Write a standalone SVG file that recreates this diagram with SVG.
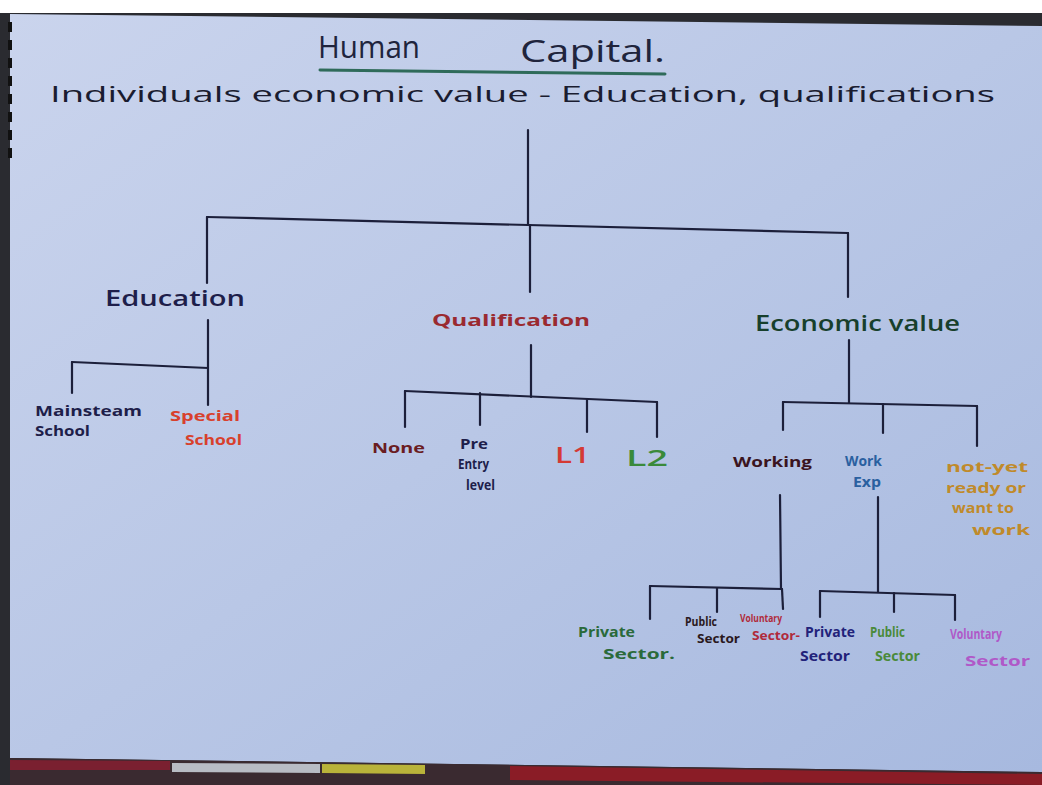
<svg xmlns="http://www.w3.org/2000/svg" width="1042" height="785" viewBox="0 0 1042 785">
  <defs>
    <linearGradient id="paperShade" x1="0" y1="0" x2="1" y2="1">
      <stop offset="0" stop-color="#cad4ed"/>
      <stop offset="0.5" stop-color="#b9c7e6"/>
      <stop offset="1" stop-color="#a7b9df"/>
    </linearGradient>
    <style>
      .ink { fill: none; stroke: #1c1f3a; stroke-width: 2.2; stroke-linecap: round; stroke-linejoin: round; }
      .hand { font-family: "Open Sans", "Noto Sans", "Liberation Sans", sans-serif; }
      .t1 { font-size: 21px; font-weight: 600; }
      .t2 { font-size: 16px; font-weight: 700; }
      .t3 { font-size: 15px; font-weight: 700; }
      .t4 { font-size: 12px; font-weight: 700; }
    </style>
  </defs>

  <!-- desk behind the sheet -->
  <rect x="0" y="0" width="1042" height="785" fill="#2a2b30"/>
  <rect x="0" y="0" width="1042" height="13" fill="#ffffff"/>

  <!-- the sheet -->
  <polygon points="10,14 1042,26 1042,772 10,758" fill="url(#paperShade)"/>

  <!-- edge of the pad under the sheet -->
  <polygon points="10,758 1042,772 1042,785 10,785" fill="#3a2a30"/>
  <polygon points="10,760 170,761 170,770 10,770" fill="#7a2030"/>
  <polygon points="172,763 320,764 320,773 172,772" fill="#b8bcc4"/>
  <polygon points="322,764 425,765 425,774 322,773" fill="#b9b33a"/>
  <polygon points="510,766 1042,774 1042,785 510,780" fill="#8a1c26"/>

  <!-- binder holes on the left edge -->
  <g fill="#111">
    <rect x="8" y="22" width="4" height="10"/>
    <rect x="8" y="40" width="4" height="10"/>
    <rect x="8" y="58" width="4" height="10"/>
    <rect x="8" y="76" width="4" height="10"/>
    <rect x="8" y="94" width="4" height="10"/>
    <rect x="8" y="112" width="4" height="10"/>
    <rect x="8" y="130" width="4" height="10"/>
    <rect x="8" y="148" width="4" height="10"/>
  </g>

  <!-- heading -->
  <g id="title">
    <text class="hand" x="318" y="58" font-size="31" font-weight="400" fill="#20243c" textLength="102" lengthAdjust="spacingAndGlyphs">Human</text>
    <text class="hand" x="520" y="62" font-size="31" font-weight="400" fill="#20243c" textLength="145" lengthAdjust="spacingAndGlyphs">Capital.</text>
    <path d="M 320 70 L 665 74" stroke="#2f6b5a" stroke-width="3" fill="none" stroke-linecap="round"/>
  </g>
  <g id="definition">
    <text class="hand" x="50" y="102" font-size="22" font-weight="400" fill="#1a1c30" textLength="945" lengthAdjust="spacingAndGlyphs">Individuals economic value - Education, qualifications</text>
  </g>

  <!-- connectors -->
  <g id="connectors" class="ink">
    <!-- top level -->
    <path d="M 528 130 L 528 224"/>
    <path d="M 207 217 L 848 233"/>
    <path d="M 207 217 L 207 283"/>
    <path d="M 530 225 L 530 292"/>
    <path d="M 848 233 L 848 297"/>
    <!-- education -->
    <path d="M 208 320 L 208 405"/>
    <path d="M 72 362 L 208 368"/>
    <path d="M 72 362 L 72 393"/>
    <!-- qualification -->
    <path d="M 531 345 L 531 397"/>
    <path d="M 405 391 L 657 402"/>
    <path d="M 405 391 L 405 427"/>
    <path d="M 480 393 L 480 425"/>
    <path d="M 587 399 L 587 432"/>
    <path d="M 657 402 L 657 437"/>
    <!-- economic value -->
    <path d="M 849 340 L 849 403"/>
    <path d="M 783 402 L 977 406"/>
    <path d="M 783 402 L 783 430"/>
    <path d="M 883 404 L 883 433"/>
    <path d="M 977 406 L 977 446"/>
    <!-- working -->
    <path d="M 780 495 L 781 589"/>
    <path d="M 650 586 L 782 589"/>
    <path d="M 650 586 L 650 619"/>
    <path d="M 717 588 L 717 612"/>
    <path d="M 782 589 L 783 609"/>
    <!-- work experience -->
    <path d="M 878 497 L 878 592"/>
    <path d="M 820 591 L 955 595"/>
    <path d="M 820 591 L 820 617"/>
    <path d="M 894 593 L 894 612"/>
    <path d="M 955 595 L 955 620"/>
  </g>

  <!-- second level -->
  <g id="education">
    <text class="hand t1" x="105" y="306" fill="#1e1e4a" textLength="140" lengthAdjust="spacingAndGlyphs">Education</text>
  </g>
  <g id="qualification">
    <text class="hand t2" x="432" y="326" fill="#9a2a30" textLength="158" lengthAdjust="spacingAndGlyphs">Qualification</text>
  </g>
  <g id="economic-value">
    <text class="hand t1" x="755" y="331" fill="#173f2c" textLength="205" lengthAdjust="spacingAndGlyphs">Economic value</text>
  </g>

  <!-- education branches -->
  <g id="mainstream-school">
    <text class="hand t3" x="35" y="416" fill="#1e1e4a" textLength="107" lengthAdjust="spacingAndGlyphs">Mainsteam</text>
    <text class="hand t3" x="35" y="436" fill="#1e1e4a" textLength="55" lengthAdjust="spacingAndGlyphs">School</text>
  </g>
  <g id="special-school">
    <text class="hand t3" x="170" y="421" fill="#d8402c" textLength="70" lengthAdjust="spacingAndGlyphs">Special</text>
    <text class="hand t3" x="185" y="445" fill="#d8402c" textLength="57" lengthAdjust="spacingAndGlyphs">School</text>
  </g>

  <!-- qualification branches -->
  <g id="none">
    <text class="hand t3" x="372" y="453" fill="#6a1c22" textLength="53" lengthAdjust="spacingAndGlyphs">None</text>
  </g>
  <g id="pre-entry">
    <text class="hand t3" x="460" y="449" fill="#1e1e4a" textLength="28" lengthAdjust="spacingAndGlyphs">Pre</text>
    <text class="hand t3" x="458" y="469" fill="#1e1e4a" textLength="31" lengthAdjust="spacingAndGlyphs">Entry</text>
    <text class="hand t3" x="466" y="490" fill="#1e1e4a" textLength="29" lengthAdjust="spacingAndGlyphs">level</text>
  </g>
  <g id="l1">
    <text class="hand t1" x="555" y="463" fill="#d43a34" textLength="35" lengthAdjust="spacingAndGlyphs">L1</text>
  </g>
  <g id="l2">
    <text class="hand t1" x="626" y="466" fill="#3a8a3a" textLength="42" lengthAdjust="spacingAndGlyphs">L2</text>
  </g>

  <!-- economic value branches -->
  <g id="working">
    <text class="hand t3" x="733" y="467" fill="#3a1420" textLength="79" lengthAdjust="spacingAndGlyphs">Working</text>
  </g>
  <g id="work-exp">
    <text class="hand t3" x="845" y="466" fill="#2a60a0" textLength="37" lengthAdjust="spacingAndGlyphs">Work</text>
    <text class="hand t3" x="853" y="487" fill="#2a60a0" textLength="28" lengthAdjust="spacingAndGlyphs">Exp</text>
  </g>
  <g id="not-yet-ready">
    <text class="hand t3" x="946" y="472" fill="#c08a2a" textLength="82" lengthAdjust="spacingAndGlyphs">not-yet</text>
    <text class="hand t3" x="946" y="493" fill="#c08a2a" textLength="80" lengthAdjust="spacingAndGlyphs">ready or</text>
    <text class="hand t3" x="952" y="513" fill="#c08a2a" textLength="62" lengthAdjust="spacingAndGlyphs">want to</text>
    <text class="hand t3" x="972" y="535" fill="#c08a2a" textLength="58" lengthAdjust="spacingAndGlyphs">work</text>
  </g>

  <!-- sectors under working -->
  <g id="working-private">
    <text class="hand t3" x="578" y="637" fill="#2a6a3a" textLength="57" lengthAdjust="spacingAndGlyphs">Private</text>
    <text class="hand t3" x="603" y="659" fill="#2a6a3a" textLength="72" lengthAdjust="spacingAndGlyphs">Sector.</text>
  </g>
  <g id="working-public">
    <text class="hand t4" x="685" y="626" fill="#2a1820" textLength="32" lengthAdjust="spacingAndGlyphs">Public</text>
    <text class="hand t4" x="697" y="643" fill="#2a1820" textLength="43" lengthAdjust="spacingAndGlyphs">Sector</text>
  </g>
  <g id="working-voluntary">
    <text class="hand" x="740" y="622" font-size="11" font-weight="700" fill="#b02a3a" textLength="42" lengthAdjust="spacingAndGlyphs">Voluntary</text>
    <text class="hand t4" x="752" y="640" fill="#b02a3a" textLength="48" lengthAdjust="spacingAndGlyphs">Sector-</text>
  </g>

  <!-- sectors under work experience -->
  <g id="exp-private">
    <text class="hand t3" x="805" y="637" fill="#22227a" textLength="50" lengthAdjust="spacingAndGlyphs">Private</text>
    <text class="hand t3" x="800" y="661" fill="#22227a" textLength="50" lengthAdjust="spacingAndGlyphs">Sector</text>
  </g>
  <g id="exp-public">
    <text class="hand t3" x="870" y="637" fill="#4a8a3a" textLength="35" lengthAdjust="spacingAndGlyphs">Public</text>
    <text class="hand t3" x="875" y="661" fill="#4a8a3a" textLength="45" lengthAdjust="spacingAndGlyphs">Sector</text>
  </g>
  <g id="exp-voluntary">
    <text class="hand t3" x="950" y="639" fill="#b058c8" textLength="52" lengthAdjust="spacingAndGlyphs">Voluntary</text>
    <text class="hand t3" x="965" y="666" fill="#b058c8" textLength="65" lengthAdjust="spacingAndGlyphs">Sector</text>
  </g>
</svg>
